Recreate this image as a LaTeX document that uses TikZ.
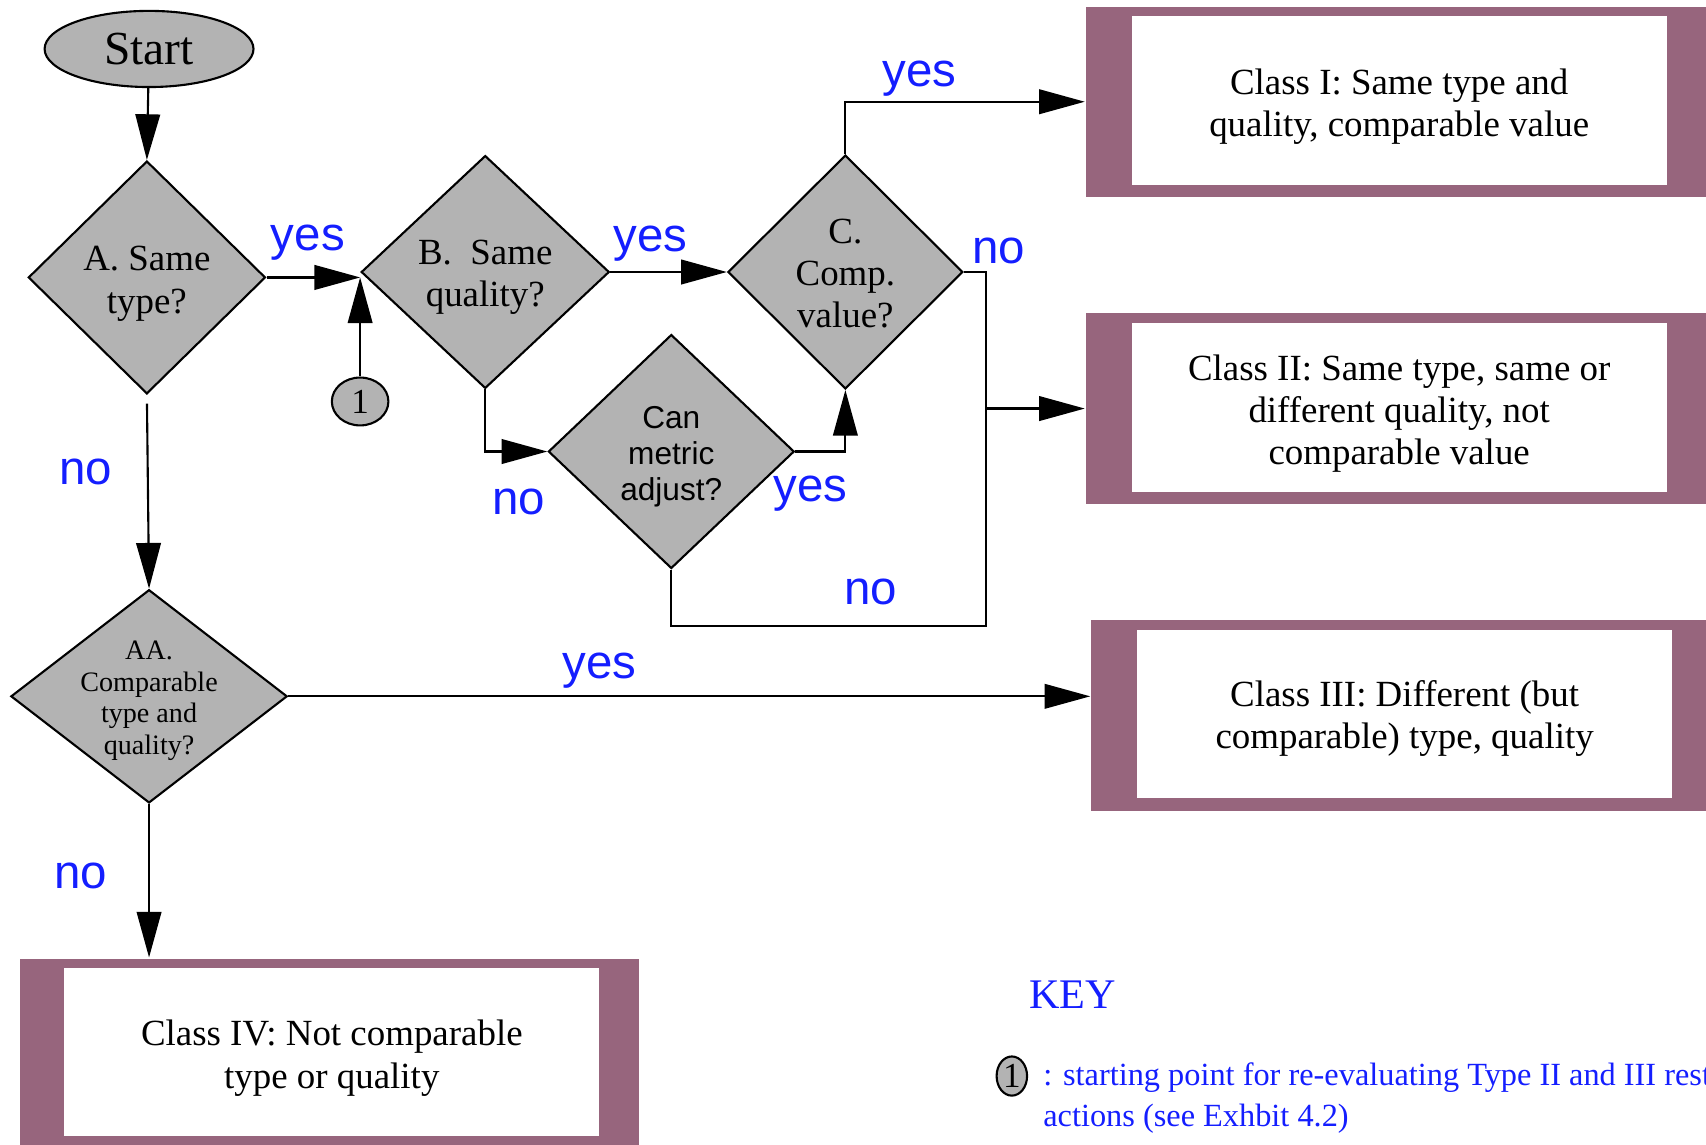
\documentclass[tikz,border=0pt]{standalone}
\usepackage{fontspec}
\setmainfont{Liberation Serif}
\setsansfont{Liberation Sans}
\usetikzlibrary{shapes.geometric,arrows.meta}
\definecolor{boxmauve}{RGB}{151,101,125}
\definecolor{fillgray}{RGB}{179,179,179}
\definecolor{lblblue}{RGB}{20,30,255}
\newcommand\pu{0.01088cm}
\newcommand\topgap[1]{\rule{0pt}{#1}}
\begin{document}
\begin{tikzpicture}[x=\pu, y=-\pu, line width=0.6pt, line join=miter,
    >={Triangle[length=13pt,width=7pt]},
    decision/.style={diamond, draw, fill=fillgray, inner sep=0pt, align=center, font=\fontsize{10.5}{12}\selectfont},
    frame/.style={fill=boxmauve, inner sep=0pt},
    classbox/.style={fill=white, inner sep=0pt, align=center, minimum width=492*\pu, minimum height=155*\pu, font=\fontsize{10.5}{12}\selectfont},
    lbl/.style={text=lblblue, font=\sffamily\fontsize{13.5}{14}\selectfont}]
    \useasboundingbox (0,0) rectangle (1568,1052);
    % start and decisions
    \node[ellipse, draw, fill=fillgray, inner sep=0pt, minimum width=192*\pu, minimum height=70*\pu, font=\fontsize{13.5}{14}\selectfont] (start) at (137,45) {Start};
    \node[decision, minimum width=218*\pu, minimum height=214*\pu] (A) at (135,255) {\topgap{10.5pt}A. Same\\type?};
    \node[decision, minimum width=228*\pu, minimum height=214*\pu] (B) at (446,250) {\topgap{10pt}B.\ \ Same\\quality?};
    \node[decision, minimum width=216*\pu, minimum height=215*\pu] (C) at (777,250) {\topgap{8pt}C.\\Comp.\\value?};
    \node[decision, minimum width=226*\pu, minimum height=215*\pu, font=\sffamily\fontsize{9}{10.2}\selectfont] (D) at (617,415) {\topgap{9.3pt}Can\\metric\\adjust?};
    \node[decision, aspect=1.3, inner sep=-2pt, minimum width=254*\pu, minimum height=196*\pu, font=\fontsize{8}{9}\selectfont] (AA) at (137,640) {\topgap{7.8pt}AA.\\Comparable\\type and\\quality?};
    \node[ellipse, draw, fill=fillgray, inner sep=0pt, minimum width=52*\pu, minimum height=44*\pu, font=\fontsize{10}{10}\selectfont] (one) at (331,369) {1};
    % class boxes
    \node[frame, minimum width=602*\pu, minimum height=175*\pu] (c1o) at (1299,93.5) {};
    \node[classbox] (c1) at (1286,92.5) {\topgap{10.7pt}Class I: Same type and\\quality, comparable value};
    \node[frame, minimum width=602*\pu, minimum height=175*\pu] (c2o) at (1299,375.5) {};
    \node[classbox] (c2) at (1286,374.5) {\topgap{10.7pt}Class II: Same type, same or\\different quality, not\\comparable value};
    \node[frame, minimum width=602*\pu, minimum height=175*\pu] (c3o) at (1304,657.5) {};
    \node[classbox, minimum height=154*\pu] (c3) at (1291,656) {\topgap{10.3pt}Class III: Different (but\\comparable) type, quality};
    \node[frame, minimum width=569*\pu, minimum height=179*\pu] (c4o) at (302.5,970.5) {};
    \node[classbox, minimum height=154*\pu] (c4) at (305,967) {\topgap{10.7pt}Class IV: Not comparable\\type or quality};
    % connectors
    \draw[->] (start) -- (A.north);
    \draw[->] (A.east) -- (A.east -| B.west);
    \draw[->] (one.north) -- (one.north |- A.east);
    \draw[->] (B.east) -- (C.west);
    \draw[->] (C.north) |- (c1o.west);
    \draw[->] (B.south) |- (D.west);
    \draw[->] (D.east) -| (C.south);
    \coordinate (loop) at (906,575);
    \draw (C.east) -| (loop) -| (D.south);
    \draw[->] (loop |- c2o.west) -- (c2o.west);
    \draw[->, shorten <=2.5pt] (A.south) -- (AA.north);
    \draw[->] (AA.east) -- (AA.east -| c3o.west);
    \draw[->] (AA.south) -- (AA.south |- c4o.north);
    % yes / no
    \node[lbl] (y1) at (283,223) {yes};
    \node[lbl] (y2) at (598,224) {yes};
    \node[lbl] (y3) at (845,72) {yes};
    \node[lbl] (y4) at (745,454) {yes};
    \node[lbl] (y5) at (551,616) {yes};
    \node[lbl] (n1) at (918,231) {no};
    \node[lbl] (n2) at (477,461) {no};
    \node[lbl] (n3) at (800,544) {no};
    \node[lbl] (n4) at (79,434) {no};
    \node[lbl] (n5) at (74,805) {no};
    % key
    \node[text=lblblue, font=\fontsize{12}{12}\selectfont] (key) at (986,914) {KEY};
    \node[ellipse, draw, fill=fillgray, inner sep=0pt, minimum width=28*\pu, minimum height=36*\pu, font=\fontsize{10}{10}\selectfont] (keyone) at (930,989) {1};
    \node[anchor=west, align=left, text=lblblue, inner sep=0pt, font=\fontsize{9.2}{11.7}\selectfont] (keytext) at (958,1009) {: starting point for re-evaluating Type II and III restoration\\actions (see Exhbit 4.2)};
\end{tikzpicture}
\end{document}
